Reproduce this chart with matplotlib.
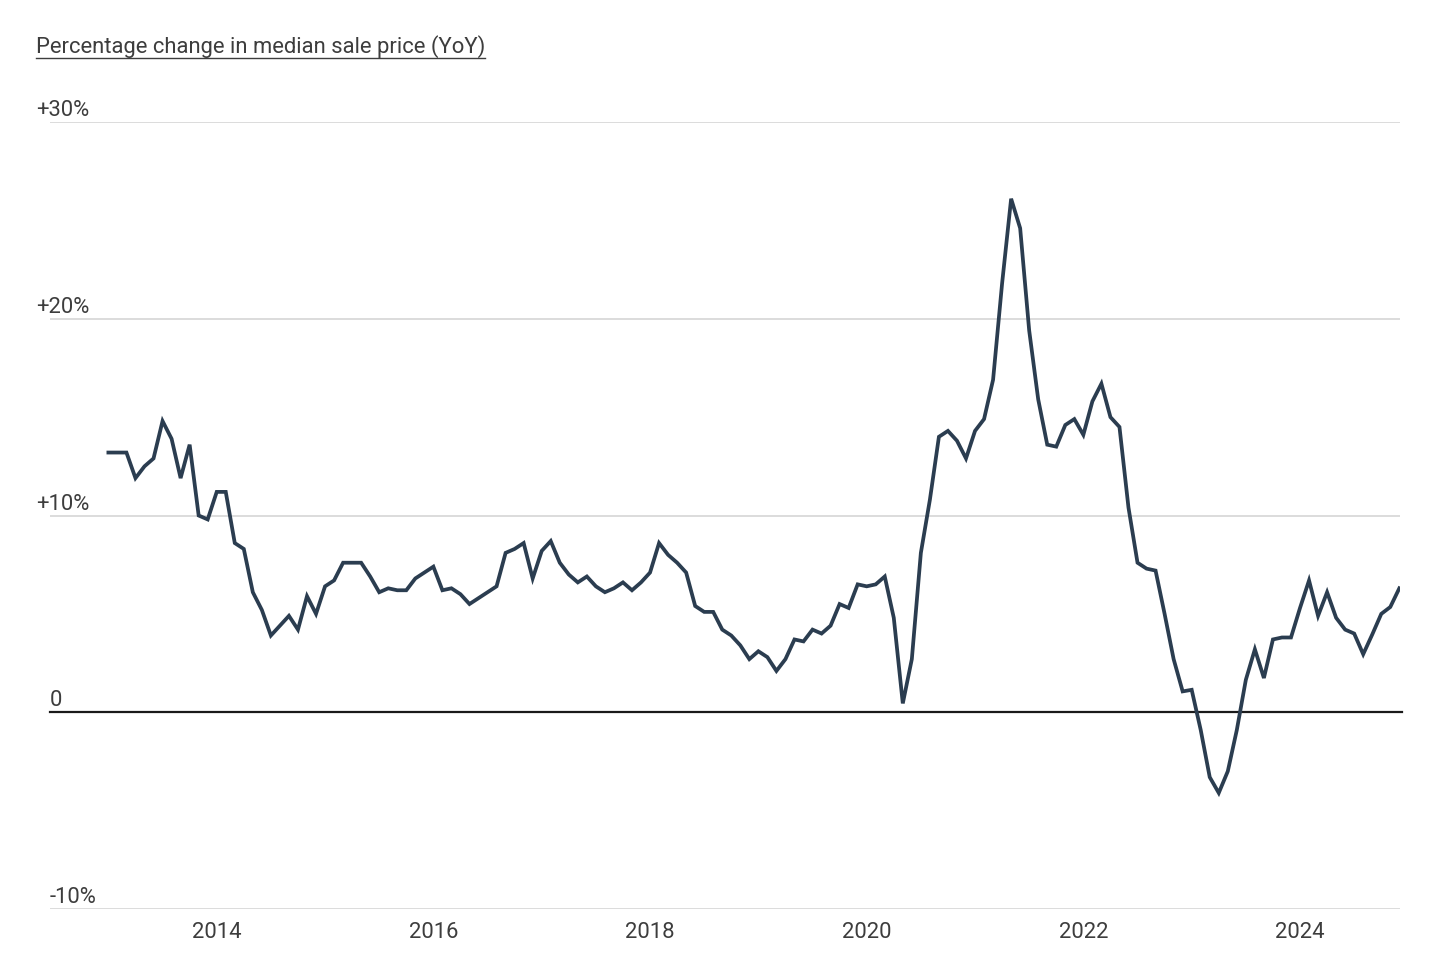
import matplotlib
matplotlib.use("Agg")
import matplotlib.pyplot as plt
from matplotlib.lines import Line2D
import numpy as np

plt.rcParams['font.family'] = ['Roboto', 'DejaVu Sans']

# Monthly YoY % change in median sale price, Jan 2013 .. Dec 2024
years = list(range(2013, 2025))
values_by_year = {
    2013: [13.2, 13.2, 13.2, 11.9, 12.5, 12.9, 14.8, 13.9, 11.9, 13.6, 10.0, 9.8],
    2014: [11.2, 11.2, 8.6, 8.3, 6.1, 5.2, 3.9, 4.4, 4.9, 4.2, 5.9, 5.0],
    2015: [6.4, 6.7, 7.6, 7.6, 7.6, 6.9, 6.1, 6.3, 6.2, 6.2, 6.8, 7.1],
    2016: [7.4, 6.2, 6.3, 6.0, 5.5, 5.8, 6.1, 6.4, 8.1, 8.3, 8.6, 6.8],
    2017: [8.2, 8.7, 7.6, 7.0, 6.6, 6.9, 6.4, 6.1, 6.3, 6.6, 6.2, 6.6],
    2018: [7.1, 8.6, 8.0, 7.6, 7.1, 5.4, 5.1, 5.1, 4.2, 3.9, 3.4, 2.7],
    2019: [3.1, 2.8, 2.1, 2.7, 3.7, 3.6, 4.2, 4.0, 4.4, 5.5, 5.3, 6.5],
    2020: [6.4, 6.5, 6.9, 4.8, 0.45, 2.7, 8.1, 10.8, 14.0, 14.3, 13.8, 12.9],
    2021: [14.3, 14.9, 16.9, 21.8, 26.1, 24.6, 19.4, 15.9, 13.6, 13.5, 14.6, 14.9],
    2022: [14.1, 15.8, 16.7, 15.0, 14.5, 10.4, 7.6, 7.3, 7.2, 5.0, 2.7, 1.06],
    2023: [1.14, -0.9, -3.3, -4.1, -3.0, -0.9, 1.65, 3.2, 1.74, 3.7, 3.8, 3.8],
    2024: [5.3, 6.7, 4.9, 6.1, 4.8, 4.2, 4.0, 2.95, 3.95, 5.0, 5.35, 6.3],
}

y_ticks = [-10, 0, 10, 20, 30]
y_tick_labels = ["-10%", "0", "+10%", "+20%", "+30%"]
x_ticks = [2014, 2016, 2018, 2020, 2022, 2024]
x_tick_labels = ["2014", "2016", "2018", "2020", "2022", "2024"]
title = "Percentage change in median sale price (YoY)"

x = []
y = []
for yr in years:
    for m, v in enumerate(values_by_year[yr]):
        x.append(yr + m / 12.0)
        y.append(v)

W, H = 1450, 975
FS = 15.8
TXT = "#3d3d3d"
fig = plt.figure(figsize=(W / 100, H / 100), dpi=100)
fig.patch.set_facecolor("white")

left, right = 50 / W, 1400 / W
bottom, top = (H - 909) / H, (H - 122) / H
ax = fig.add_axes([left, bottom, right - left, top - bottom])
ax.set_facecolor("white")

ax.set_xlim(2012.461, 2024.923)
ax.set_ylim(-10, 30)

for s in ax.spines.values():
    s.set_visible(False)

# gridlines
for t in y_ticks:
    if t == 0:
        continue
    ax.axhline(t, color="#d9d9d9", lw=1.3, zorder=1)
ax.axhline(0, color="#1a1a1a", lw=1.6, zorder=2, xmax=1.0015, clip_on=False)

ax.plot(x, y, color="#2b3d50", lw=2.7, zorder=3, solid_joinstyle="miter")

ax.set_yticks([])
ax.set_xticks(x_ticks)
ax.set_xticklabels(x_tick_labels, fontsize=FS, color=TXT)
ax.tick_params(axis="x", length=0, pad=9)

# y tick labels placed above gridlines at left
for t, lab in zip(y_ticks, y_tick_labels):
    ypix = ax.transData.transform((0, t))[1]
    xpix = 36 if lab.startswith("+") else 50
    fig.text(xpix / W, (ypix + 1) / H, lab, fontsize=FS, color=TXT,
             ha="left", va="bottom")

# title with underline
t = fig.text(36 / W, (H - 47) / H, title, fontsize=FS, color=TXT,
             ha="left", va="center")
fig.canvas.draw()
bb = t.get_window_extent(renderer=fig.canvas.get_renderer())
uy = (H - 58) / H
fig.add_artist(Line2D([bb.x0 / W, bb.x1 / W], [uy, uy], color=TXT, lw=1.0))

fig.savefig("out.png", dpi=100, facecolor="white")
